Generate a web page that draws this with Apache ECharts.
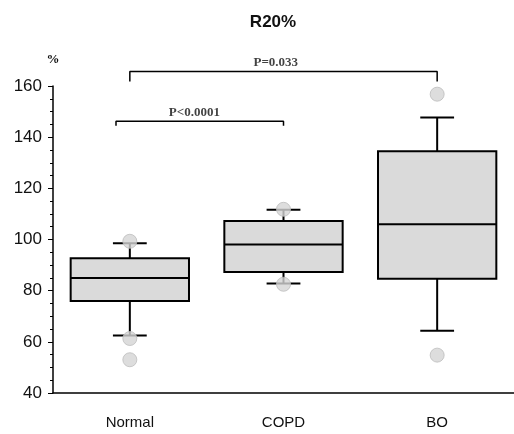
<!DOCTYPE html>
<html>
<head>
<meta charset="utf-8">
<script src="https://cdn.jsdelivr.net/npm/echarts@6/dist/echarts.min.js"></script>
<style>
  html, body { margin: 0; padding: 0; background: #fff; }
  #chart { width: 514px; height: 434px; }
</style>
</head>
<body>
<div id="chart"></div>
<script>
// values
const categories = ["Normal", "COPD", "BO"];
const lowWhisker = [62.5, 82.8, 64.3];
const q1 = [76, 87.3, 84.7];
const medians = [85, 98, 106];
const q3 = [92.7, 107.2, 134.5];
const highWhisker = [98.5, 111.6, 147.7];
// [category index, value]
const outliers = [[0, 99.3], [0, 61.3], [0, 53], [1, 111.8], [1, 82.5], [2, 156.8], [2, 54.8]];
const yTicks = { min: 40, max: 160, interval: 20 };

// significance brackets, x in category units
const bracketLong = [[0, 161.8], [0, 165.7], [2, 165.7], [2, 161.8]];
const bracketShort = [[-0.09, 144.5], [-0.09, 146.2], [1, 146.2], [1, 144.5]];
const pLabels = [[0.95, 169.3, "P=0.033"], [0.42, 149.5, "P<0.0001"]];

const boxData = categories.map((c, i) => [i, lowWhisker[i], q1[i], medians[i], q3[i], highWhisker[i]]);

function renderBox(params, api) {
    const i = api.value(0);
    const band = api.size([1, 0])[0];
    const half = band * 0.385;
    const capHalf = band * 0.11;
    const x = api.coord([i, api.value(3)])[0];
    const y = v => api.coord([i, v])[1];
    const yLow = y(api.value(1)), yQ1 = y(api.value(2)), yMed = y(api.value(3));
    const yQ3 = y(api.value(4)), yHigh = y(api.value(5));
    const stroke = { stroke: "#000", lineWidth: 2 };
    return {
        type: "group",
        children: [
            { type: "line", shape: { x1: x, y1: yHigh, x2: x, y2: yQ3 }, style: stroke },
            { type: "line", shape: { x1: x, y1: yQ1, x2: x, y2: yLow }, style: stroke },
            { type: "line", shape: { x1: x - capHalf, y1: yHigh, x2: x + capHalf, y2: yHigh }, style: stroke },
            { type: "line", shape: { x1: x - capHalf, y1: yLow, x2: x + capHalf, y2: yLow }, style: stroke },
            {
                type: "rect",
                shape: { x: x - half, y: yQ3, width: half * 2, height: yQ1 - yQ3 },
                style: { fill: "#dadada", stroke: "#000", lineWidth: 2 }
            },
            { type: "line", shape: { x1: x - half, y1: yMed, x2: x + half, y2: yMed }, style: stroke }
        ]
    };
}

const chart = echarts.init(document.getElementById("chart"));

const option = {
    animation: false,
    title: {
        text: "R20%",
        left: 268,
        textAlign: "center",
        top: 9,
        textStyle: { fontFamily: "Liberation Sans", fontSize: 17, fontWeight: "bold", color: "#111" }
    },
    grid: { left: 53, right: -6, top: 86, bottom: 41 },
    xAxis: [
        {
            type: "category",
            data: categories,
            axisLine: { lineStyle: { color: "#000", width: 1.5 } },
            axisTick: { show: false },
            axisLabel: {
                margin: 22,
                color: "#111",
                fontFamily: "Liberation Sans",
                fontSize: 15
            }
        },
        { type: "value", min: -0.5, max: 2.5, show: false }
    ],
    yAxis: {
        type: "value",
        min: yTicks.min,
        max: yTicks.max,
        interval: yTicks.interval,
        name: "%",
        nameGap: 20,
        nameTextStyle: { fontFamily: "Liberation Serif", fontWeight: "bold", fontSize: 13, color: "#111", align: "center" },
        axisLine: { show: true, onZero: false, lineStyle: { color: "#000", width: 1.5 } },
        axisTick: { show: true, length: 5, lineStyle: { color: "#000" } },
        minorTick: { show: true, splitNumber: 4, length: 3, lineStyle: { color: "#000" } },
        splitLine: { show: false },
        axisLabel: { margin: 11, color: "#111", fontFamily: "Liberation Sans", fontSize: 17 }
    },
    series: [
        {
            type: "custom",
            renderItem: renderBox,
            data: boxData,
            encode: { x: 0, y: [1, 2, 3, 4, 5] },
            z: 2
        },
        {
            type: "scatter",
            data: outliers,
            symbolSize: 14,
            itemStyle: { color: "#d4d4d4", borderColor: "#bdbdbd", borderWidth: 1 },
            z: 3
        },
        {
            type: "line",
            xAxisIndex: 1,
            data: bracketLong,
            symbol: "none",
            clip: false,
            lineStyle: { color: "#000", width: 1.5 }
        },
        {
            type: "line",
            xAxisIndex: 1,
            data: bracketShort,
            symbol: "none",
            clip: false,
            lineStyle: { color: "#000", width: 1.5 }
        },
        {
            type: "scatter",
            xAxisIndex: 1,
            data: pLabels,
            symbolSize: 0,
            clip: false,
            label: {
                show: true,
                position: "inside",
                formatter: p => p.value[2],
                fontFamily: "Liberation Serif",
                fontWeight: "bold",
                fontSize: 13,
                color: "#111"
            }
        }
    ]
};

chart.setOption(option);
</script>
</body>
</html>
